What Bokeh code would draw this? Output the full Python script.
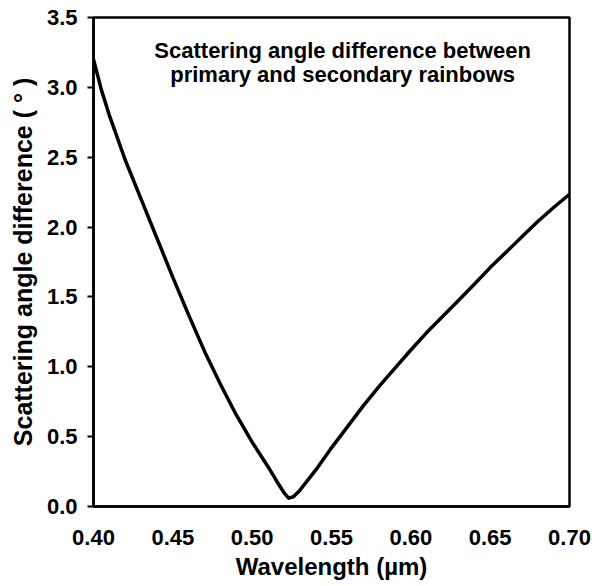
from bokeh.plotting import figure
from bokeh.models import FixedTicker, NumeralTickFormatter, Range1d, Label, ColumnDataSource
from bokeh.embed import file_html
from bokeh.resources import INLINE

# Wavelength (µm)
wavelength = [0.400, 0.405, 0.410, 0.420, 0.430, 0.440, 0.450, 0.460, 0.470, 0.480, 0.490,
              0.500, 0.510, 0.515, 0.520, 0.523, 0.526, 0.530, 0.540, 0.550, 0.560,
              0.570, 0.580, 0.590, 0.600, 0.610, 0.620, 0.630, 0.640, 0.650, 0.660,
              0.670, 0.680, 0.690, 0.700]
# Scattering angle difference between primary and secondary rainbows (degrees)
angle_diff = [3.20, 2.98, 2.80, 2.48, 2.20, 1.92, 1.64, 1.37, 1.11, 0.875, 0.655,
              0.46, 0.285, 0.19, 0.10, 0.06, 0.07, 0.115, 0.26, 0.42, 0.57,
              0.72, 0.86, 0.99, 1.12, 1.245, 1.36, 1.475, 1.59, 1.71, 1.82,
              1.93, 2.04, 2.14, 2.235]

x_ticks = [0.40, 0.45, 0.50, 0.55, 0.60, 0.65, 0.70]
y_ticks = [0.0, 0.5, 1.0, 1.5, 2.0, 2.5, 3.0, 3.5]

FONT = "Liberation Sans"

p = figure(width=592, height=586, output_backend="svg", toolbar_location=None,
           x_range=Range1d(0.40, 0.70), y_range=Range1d(0.0, 3.5),
           min_border_left=93, min_border_right=23, min_border_top=17, min_border_bottom=80)
p.background_fill_color = "white"
p.border_fill_color = "white"
p.xgrid.visible = False
p.ygrid.visible = False
p.outline_line_color = "black"
p.outline_line_width = 2.5

src = ColumnDataSource(dict(x=wavelength, y=angle_diff))
p.line("x", "y", source=src, line_color="black", line_width=3.5, line_join="round")

# X axis
xa = p.xaxis[0]
xa.ticker = FixedTicker(ticks=x_ticks)
xa.formatter = NumeralTickFormatter(format="0.00")
xa.major_tick_out = 0
xa.major_tick_in = 0
xa.minor_tick_out = 0
xa.minor_tick_in = 0
xa.major_label_standoff = 23
xa.axis_label = "Wavelength (µm)"
xa.axis_label_standoff = 5
xa.axis_line_width = 2.5

# Y axis
ya = p.yaxis[0]
ya.ticker = FixedTicker(ticks=y_ticks)
ya.formatter = NumeralTickFormatter(format="0.0")
ya.major_tick_out = 6
ya.major_tick_in = 0
ya.minor_tick_out = 0
ya.minor_tick_in = 0
ya.major_tick_line_width = 2
ya.major_label_standoff = 10
ya.axis_label = "Scattering angle difference ( ° )"
ya.axis_label_standoff = 7
ya.axis_line_width = 2.5

for ax in (xa, ya):
    ax.major_label_text_font = FONT
    ax.major_label_text_font_style = "bold"
    ax.major_label_text_font_size = "22px"
    ax.major_label_text_color = "black"
    ax.axis_label_text_font = FONT
    ax.axis_label_text_font_style = "bold"
    ax.axis_label_text_font_size = "24px"
    ax.axis_label_text_color = "black"
    ax.axis_line_color = "black"
    ax.major_tick_line_color = "black"
ya.axis_label_text_font_size = "25px"

for txt, yv in (("Scattering angle difference between", 3.265),
                ("primary and secondary rainbows", 3.095)):
    p.add_layout(Label(x=0.557, y=yv, text=txt, text_align="center",
                       text_baseline="alphabetic", text_font=FONT,
                       text_font_style="bold", text_font_size="22px",
                       text_color="black"))

open("out.html", "w").write(file_html(p, INLINE))
